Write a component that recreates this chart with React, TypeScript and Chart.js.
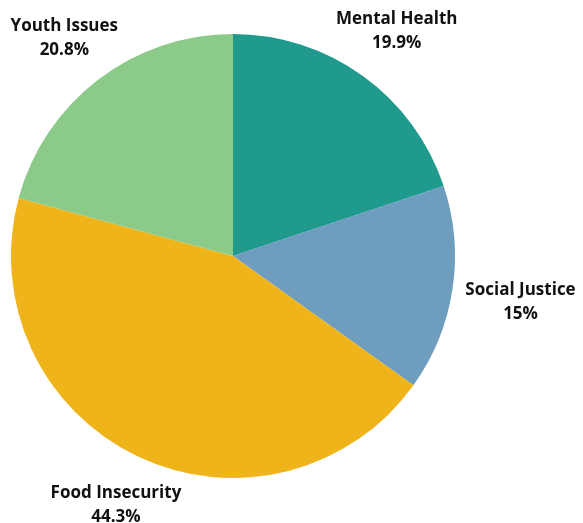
import React, { useEffect, useRef } from "react";
import { Chart, registerables } from "chart.js";

Chart.register(...registerables);

const categories = ["Mental Health", "Social Justice", "Food Insecurity", "Youth Issues"];
const values = [19.9, 15, 44.3, 20.8];
const valueLabels = ["19.9%", "15%", "44.3%", "20.8%"];
const colors = ["#1f9a8c", "#6f9dbd", "#f0b41b", "#8bca89"];
const labelRadiusFactors = [1.26, 1.31, 1.23, 1.25];

const outsideLabels = {
  id: "outsideLabels",
  afterDatasetsDraw(chart: any) {
    const ctx = chart.ctx;
    const meta = chart.getDatasetMeta(0);
    ctx.save();
    ctx.font = "bold 17px 'Open Sans', sans-serif";
    ctx.fillStyle = "#111111";
    ctx.textAlign = "center";
    ctx.textBaseline = "middle";
    meta.data.forEach((arc: any, i: number) => {
      const mid = (arc.startAngle + arc.endAngle) / 2;
      const r = arc.outerRadius * labelRadiusFactors[i];
      const x = arc.x + Math.cos(mid) * r;
      const y = arc.y + Math.sin(mid) * r + 2;
      ctx.fillText(categories[i], x, y - 12);
      ctx.fillText(valueLabels[i], x, y + 12);
    });
    ctx.restore();
  },
};

export default function App() {
  const ref = useRef<HTMLCanvasElement>(null);
  useEffect(() => {
    if (!ref.current) return;
    const chart = new Chart(ref.current, {
      type: "pie",
      data: {
        labels: categories,
        datasets: [
          {
            data: values,
            backgroundColor: colors,
            borderWidth: 0,
          },
        ],
      },
      options: {
        animation: false,
        responsive: false,
        layout: { padding: { left: 11, right: 128, top: 34, bottom: 45 } },
        plugins: {
          legend: { display: false },
          tooltip: { enabled: false },
        },
      },
      plugins: [outsideLabels],
    });
    return () => chart.destroy();
  }, []);
  return (
    <div style={{ position: "fixed", left: 0, top: 0, width: 583, height: 523, background: "#ffffff" }}>
      <canvas ref={ref} width={583} height={523} style={{ width: 583, height: 523, display: "block" }} />
    </div>
  );
}
